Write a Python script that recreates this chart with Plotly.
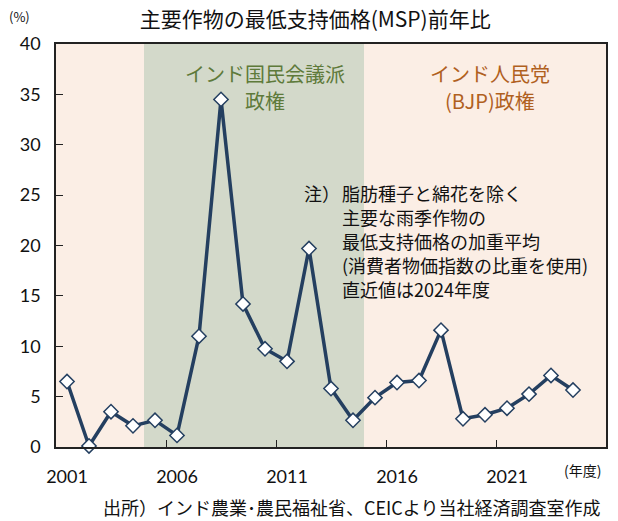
import plotly.graph_objects as go

years = list(range(2001, 2025))
msp_yoy = [6.5, 0.1, 3.5, 2.1, 2.65, 1.15, 11.0, 34.5, 14.2, 9.75, 8.5, 19.7,
           5.8, 2.65, 4.9, 6.4, 6.6, 11.6, 2.8, 3.2, 3.85, 5.25, 7.1, 5.65]

period_starts = [2000.5, 2004.5, 2014.5]
period_ends = [2004.5, 2014.5, 2025.5]
period_colors = ["#FBEEE5", "#D3D9CA", "#FBEEE5"]

x_ticklabels = [2001, 2006, 2011, 2016, 2021]
x_tickmarks = [2005.5, 2010.5, 2015.5, 2020.5]
y_ticks = [0, 5, 10, 15, 20, 25, 30, 35, 40]

JP = "Noto Sans CJK JP"
NUM = "Lato, Noto Sans CJK JP"

ML, MR, MT, MB = 56, 10, 44, 74
W, H = 618, 521

fig = go.Figure()
fig.add_trace(go.Scatter(
    x=years, y=msp_yoy, mode="lines+markers",
    line=dict(color="#243F60", width=3.5),
    marker=dict(symbol="diamond", size=11, color="white",
                line=dict(color="#243F60", width=1.5)),
    showlegend=False, cliponaxis=False,
))

for s, e, c in zip(period_starts, period_ends, period_colors):
    fig.add_shape(type="rect", xref="x", yref="y", x0=s, x1=e, y0=0, y1=40,
                  fillcolor=c, line=dict(width=0), layer="below")

fig.update_layout(
    width=W, height=H,
    margin=dict(l=ML, r=MR, t=MT, b=MB),
    paper_bgcolor="white", plot_bgcolor="white",
    font=dict(family=JP, color="#111111"),
    title=dict(text="主要作物の最低支持価格(MSP)前年比", x=0.51, xanchor="center",
               y=1 - 20 / H, yanchor="middle", font=dict(size=21, family=JP, color="#111111")),
    xaxis=dict(range=[2000.5, 2025.5], tickmode="array", tickvals=x_ticklabels,
               ticks="", showgrid=False, zeroline=False,
               showline=True, linecolor="#222222", linewidth=1.5, mirror=True,
               tickfont=dict(size=18, family=NUM, color="#111111"),
               ticklabelstandoff=13,
               minor=dict(tickmode="array", tickvals=x_tickmarks, ticks="inside",
                          ticklen=7, tickcolor="#222222", tickwidth=1.2, showgrid=False)),
    yaxis=dict(range=[0, 40], tickmode="array", tickvals=y_ticks, ticks="inside",
               ticklen=7, tickcolor="#222222", tickwidth=1.2,
               showgrid=False, zeroline=False,
               showline=True, linecolor="#222222", linewidth=1.5, mirror=True,
               tickfont=dict(size=18, family=NUM, color="#111111"),
               ticklabelstandoff=10),
)

ann = [
    dict(text="(%)", x=19, y=17, size=13, color="#111111", xanchor="center"),
    dict(text="(年度)", x=584, y=470, size=14, color="#111111", xanchor="center"),
    dict(text="出所）インド農業･農民福祉省、CEICより当社経済調査室作成", x=604, y=507,
         size=18, color="#111111", xanchor="right"),
    dict(text="インド国民会議派", x=266, y=73, size=20, color="#5E7A3A", xanchor="center"),
    dict(text="政権", x=266, y=100, size=20, color="#5E7A3A", xanchor="center"),
    dict(text="インド人民党", x=492, y=73, size=20, color="#B0601E", xanchor="center"),
    dict(text="(BJP)政権", x=492, y=100, size=20, color="#B0601E", xanchor="center"),
    dict(text="注）", x=303, y=193, size=18, color="#111111", xanchor="left"),
]
note_lines = ["脂肪種子と綿花を除く", "主要な雨季作物の", "最低支持価格の加重平均",
              "(消費者物価指数の比重を使用)", "直近値は2024年度"]
for i, t in enumerate(note_lines):
    ann.append(dict(text=t, x=341, y=193 + 24 * i, size=18, color="#111111", xanchor="left"))

for a in ann:
    fig.add_annotation(text=a["text"], xref="paper", yref="paper",
                       x=(a["x"] - ML) / (W - ML - MR),
                       y=1 - (a["y"] - MT) / (H - MT - MB),
                       xanchor=a["xanchor"], yanchor="middle", showarrow=False,
                       font=dict(size=a["size"], color=a["color"], family=JP))

fig.write_html("out.html", config={"displayModeBar": False},
               post_script="document.body.style.margin='0px';")
